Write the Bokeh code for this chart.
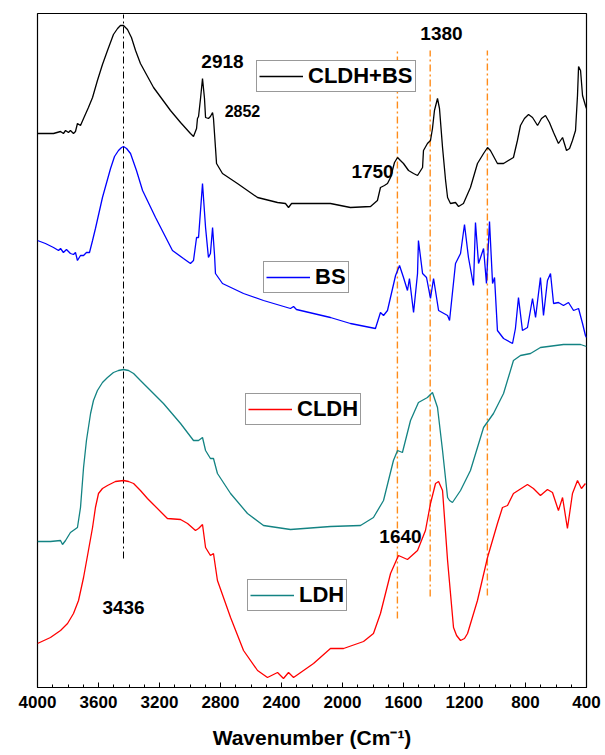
from bokeh.plotting import figure
from bokeh.models import Range1d, FixedTicker, Legend, LegendItem
from bokeh.core.properties import value
from bokeh.embed import file_html
from bokeh.resources import INLINE

# FTIR spectra, stacked with vertical offsets (arbitrary intensity units)
cldh_bs_wn = [4000, 3895, 3849, 3830, 3816, 3797, 3784, 3764, 3751, 3738, 3718, 3698, 3666, 3639, 3607,
              3574, 3541, 3502, 3475, 3456, 3436, 3410, 3384, 3357, 3325, 3239, 3128, 3062, 2997, 2977,
              2957, 2951, 2944, 2931, 2918, 2905, 2898, 2879, 2866, 2852, 2846, 2833, 2826, 2787, 2689,
              2557, 2426, 2374, 2354, 2334, 2295, 2079, 1948, 1816, 1771, 1751, 1725, 1705, 1685, 1659,
              1639, 1620, 1600, 1567, 1534, 1508, 1475, 1469, 1443, 1423, 1410, 1397, 1377, 1364, 1344,
              1324, 1311, 1292, 1259, 1239, 1207, 1161, 1115, 1075, 1049, 1030, 984, 944, 879, 853,
              833, 807, 780, 754, 721, 695, 669, 643, 616, 584, 557, 531, 511, 492, 472,
              459, 452, 439, 426, 407, 400]
cldh_bs_val = [554, 554, 556, 554, 557, 555, 557, 554, 556, 564, 562, 569, 580, 590, 607,
               623, 637, 653, 659, 662, 662, 658, 650, 637, 624, 600, 577, 565, 554, 551,
               559, 569, 571, 589, 609, 589, 570, 569, 571, 575, 569, 540, 524, 514, 504,
               490, 485, 484, 480, 484, 484, 484, 480, 481, 487, 500, 502, 504, 510, 525,
               530, 527, 524, 517, 514, 512, 520, 537, 544, 547, 559, 577, 589, 579, 540,
               507, 490, 484, 485, 481, 484, 500, 524, 534, 540, 537, 524, 524, 530, 547,
               562, 569, 573, 570, 562, 569, 572, 565, 555, 544, 550, 537, 539, 547, 557,
               592, 621, 617, 592, 582, 579]

bs_wn = [4000, 3948, 3895, 3862, 3849, 3830, 3810, 3784, 3764, 3751, 3738, 3718, 3698, 3679, 3659,
         3639, 3620, 3574, 3521, 3495, 3469, 3449, 3436, 3416, 3390, 3351, 3311, 3226, 3115, 3043,
         2997, 2977, 2957, 2944, 2918, 2898, 2879, 2866, 2852, 2839, 2833, 2787, 2649, 2518, 2341,
         2321, 2302, 2079, 1948, 1784, 1751, 1731, 1705, 1652, 1626, 1600, 1574, 1561, 1534, 1508,
         1502, 1475, 1449, 1423, 1403, 1370, 1311, 1298, 1259, 1226, 1200, 1174, 1141, 1128, 1108,
         1075, 1056, 1036, 1016, 1003, 984, 944, 885, 866, 846, 820, 787, 754, 734, 702,
         682, 656, 636, 616, 584, 551, 518, 485, 452, 426, 407, 400]
bs_val = [447, 444, 440, 437, 439, 435, 438, 434, 433, 435, 427, 432, 432, 435, 435,
          447, 459, 490, 519, 531, 537, 540, 541, 539, 534, 517, 497, 470, 437, 429,
          424, 427, 450, 450, 504, 460, 430, 434, 460, 432, 414, 404, 394, 387, 379,
          381, 378, 370, 364, 359, 375, 372, 377, 412, 422, 410, 397, 409, 375, 414,
          447, 414, 410, 389, 409, 377, 372, 367, 424, 434, 463, 430, 402, 465, 424,
          439, 404, 466, 404, 410, 357, 349, 344, 359, 390, 357, 360, 389, 370, 410,
          372, 407, 414, 384, 385, 382, 385, 377, 379, 364, 352, 350]

ldh_wn = [4000, 3915, 3849, 3836, 3816, 3784, 3738, 3718, 3698, 3679, 3652, 3633, 3607, 3574, 3541,
          3502, 3469, 3436, 3403, 3370, 3325, 3279, 3174, 3062, 2977, 2944, 2918, 2898, 2866, 2846,
          2820, 2734, 2623, 2518, 2341, 2079, 1882, 1797, 1731, 1666, 1639, 1607, 1554, 1502, 1443,
          1410, 1377, 1344, 1311, 1298, 1279, 1226, 1161, 1075, 1010, 944, 879, 833, 767, 702,
          551, 439, 400]
ldh_val = [146, 146, 147, 143, 147, 155, 160, 180, 220, 247, 274, 287, 297, 305, 310,
           315, 317, 318, 317, 314, 307, 300, 284, 264, 247, 247, 250, 237, 229, 229,
           214, 194, 174, 162, 158, 161, 162, 170, 187, 227, 237, 235, 267, 285, 290,
           295, 280, 237, 190, 187, 185, 197, 217, 260, 274, 294, 327, 332, 334, 340,
           343, 343, 341]

cldh_wn = [4000, 3915, 3849, 3803, 3764, 3731, 3698, 3666, 3639, 3620, 3600, 3574, 3541, 3489, 3436,
           3403, 3370, 3325, 3279, 3148, 3062, 3016, 2964, 2944, 2918, 2898, 2866, 2846, 2820, 2734,
           2649, 2557, 2492, 2426, 2387, 2354, 2321, 2190, 2079, 1993, 1862, 1797, 1751, 1685, 1633,
           1574, 1508, 1456, 1423, 1390, 1370, 1344, 1311, 1272, 1252, 1226, 1200, 1180, 1115, 1049,
           984, 951, 918, 879, 787, 748, 702, 656, 623, 584, 557, 525, 492, 459, 433,
           407]
cldh_val = [44, 50, 57, 64, 74, 87, 110, 137, 160, 180, 194, 199, 202, 206, 207,
            206, 204, 197, 189, 169, 168, 164, 157, 159, 163, 140, 132, 134, 107, 70,
            37, 17, 10, 15, 9, 15, 10, 24, 39, 39, 46, 54, 74, 114, 132,
            128, 137, 157, 184, 204, 206, 197, 127, 60, 52, 47, 49, 54, 87, 130,
            164, 180, 182, 194, 203, 199, 192, 198, 195, 177, 190, 159, 194, 207, 199,
            204]

# reference lines: (wavenumber, bottom, top)
oh_line = (3436, 129, 673)
band_lines_wn = [1640, 1425, 1050]
band_lines_bottom = [69, 91, 92]
band_lines_top = [637, 637, 637]

# peak annotations
peak_labels = ["2918", "1380", "1750", "1640", "3436"]
peak_label_wn = [2787, 1351, 1803, 1620, 3436]
peak_label_val = [626, 654, 516, 151, 80]
small_labels = ["2852"]
small_label_wn = [2656]
small_label_val = [577]

tick_values = [4000, 3600, 3200, 2800, 2400, 2000, 1600, 1200, 800, 400]
tick_labels = ["4000", "3600", "3200", "2800", "2400", "2000", "1600", "1200", "800", "400"]
minor_values = list(range(400, 4001, 100))

FONT = "Liberation Sans"

p = figure(width=605, height=755, output_backend="svg", toolbar_location=None,
           x_range=Range1d(4000, 400), y_range=Range1d(0, 674),
           min_border_left=37, min_border_right=19, min_border_top=13, min_border_bottom=68)
p.grid.visible = False
p.yaxis.visible = False
p.outline_line_color = "black"
p.outline_line_width = 1.2
p.background_fill_color = "white"
p.border_fill_color = "white"

xa = p.xaxis[0]
xa.ticker = FixedTicker(ticks=tick_values, minor_ticks=minor_values)
xa.major_label_overrides = {v: s for v, s in zip(tick_values, tick_labels)}
xa.major_tick_in = 5
xa.major_tick_out = 0
xa.minor_tick_in = 3
xa.minor_tick_out = 0
xa.major_tick_line_color = "black"
xa.minor_tick_line_color = "black"
xa.axis_line_color = "black"
xa.major_label_text_font = FONT
xa.major_label_text_font_style = "bold"
xa.major_label_text_font_size = "17px"
xa.major_label_text_color = "black"
xa.major_label_standoff = 8
xa.axis_label = "Wavenumber (Cm\u207b\u00b9)"
xa.axis_label_text_font = FONT
xa.axis_label_text_font_style = "bold"
xa.axis_label_text_font_size = "21px"
xa.axis_label_text_color = "black"
xa.axis_label_standoff = 15

# guide lines
p.segment(x0=[oh_line[0]], y0=[oh_line[1]], x1=[oh_line[0]], y1=[oh_line[2]],
          line_color="black", line_width=1, line_dash="7 3 2 3")
p.segment(x0=band_lines_wn, y0=band_lines_bottom, x1=band_lines_wn, y1=band_lines_top,
          line_color="#FF8C1A", line_width=1.4, line_dash="7 3 2 3")

# spectra
r_cldh_bs = p.line(cldh_bs_wn, cldh_bs_val, line_color="black", line_width=1.3)
r_bs = p.line(bs_wn, bs_val, line_color="#0000FF", line_width=1.3)
r_ldh = p.line(ldh_wn, ldh_val, line_color="#138383", line_width=1.3)
r_cldh = p.line(cldh_wn, cldh_val, line_color="#FF0000", line_width=1.3)

# peak labels
p.text(x=peak_label_wn, y=peak_label_val, text=peak_labels, text_font=value(FONT),
       text_font_style="bold", text_font_size="19px", text_align="center",
       text_baseline="middle", text_color="black")
p.text(x=small_label_wn, y=small_label_val, text=small_labels, text_font=value(FONT),
       text_font_style="bold", text_font_size="16px", text_align="center",
       text_baseline="middle", text_color="black")


def boxed_legend(label, renderer, loc):
    leg = Legend(items=[LegendItem(label=label, renderers=[renderer])], location=loc,
                 orientation="vertical", glyph_width=44, glyph_height=20, label_standoff=5,
                 padding=2, margin=0, spacing=0,
                 label_text_font=FONT, label_text_font_style="bold",
                 label_text_font_size="22px", label_text_color="black",
                 border_line_color="#333333", border_line_width=1.2,
                 background_fill_color="white", background_fill_alpha=1.0)
    p.add_layout(leg, "center")


boxed_legend("CLDH+BS", r_cldh_bs, (219, 595))
boxed_legend("BS", r_bs, (226, 394))
boxed_legend("CLDH", r_cldh, (208, 262))
boxed_legend("LDH", r_ldh, (210, 76))

open("out.html", "w").write(file_html(p, INLINE))
